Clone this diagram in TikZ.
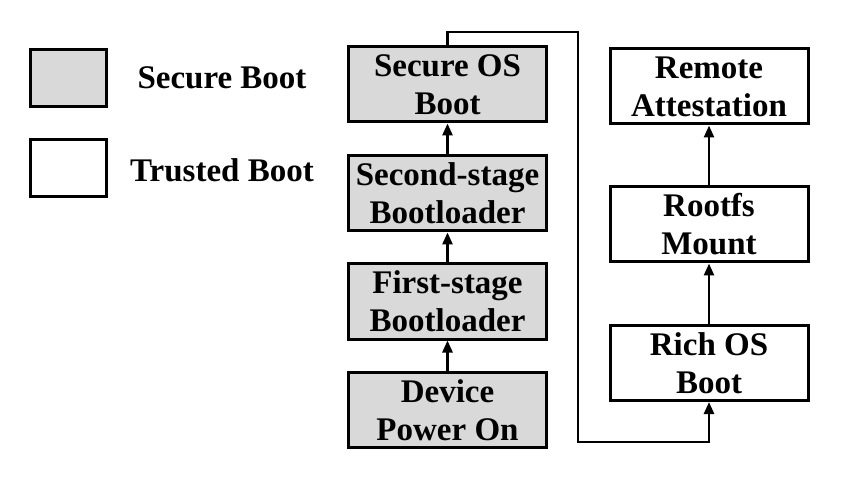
\documentclass[tikz,border=0pt]{standalone}
\usepackage{fontspec}
\setmainfont{Liberation Serif}
\usetikzlibrary{positioning,arrows.meta}

\begin{document}
\begin{tikzpicture}[
  x=1pt, y=-1pt,
  sbox/.style={draw, line width=3pt, fill=gray!30, minimum width=198pt, minimum height=75pt,
               font=\fontsize{33}{38}\selectfont\bfseries, align=center, inner sep=1pt},
  tbox/.style={sbox, fill=white},
  key/.style={draw, line width=3pt, minimum width=76pt, minimum height=57pt, inner sep=0pt},
  lab/.style={font=\fontsize{33}{38}\selectfont\bfseries},
  arr/.style={-{Triangle[length=12pt,width=10pt]}, line width=2.6pt}
]
\useasboundingbox (0,0) rectangle (849,489);

% legend
\node[key, fill=gray!30] (ksec) at (68.5,78) {};
\node[key, fill=white] (ktru) at (68.5,168.5) {};
\node[lab] (lsec) at (222,78) {Secure Boot};
\node[lab] (ltru) at (222,170) {Trusted Boot};

% secure boot chain
\node[sbox] (sos) at (447.5,84.5) {Secure OS\\Boot};
\node[sbox] (ssb) at (447.5,193.5) {Second-stage\\Bootloader};
\node[sbox] (fsb) at (447.5,301.5) {First-stage\\Bootloader};
\node[sbox] (dpo) at (447.5,410) {Device\\Power On};

% trusted boot chain
\node[tbox] (ra) at (709,86.5) {Remote\\Attestation};
\node[tbox] (rfs) at (709,224.5) {Rootfs\\Mount};
\node[tbox] (rich) at (709,363) {Rich OS\\Boot};

\draw[arr] (dpo) -- (fsb);
\draw[arr] (fsb) -- (ssb);
\draw[arr] (ssb) -- (sos);
\draw[arr] (rich) -- (rfs);
\draw[arr] (rfs) -- (ra);

% hand-over to rich OS
\coordinate (top) at (578,32);
\coordinate (bot) at (578,442);
\draw[arr] (sos.north) |- (top) -- (bot) -| (rich.south);

\end{tikzpicture}
\end{document}
